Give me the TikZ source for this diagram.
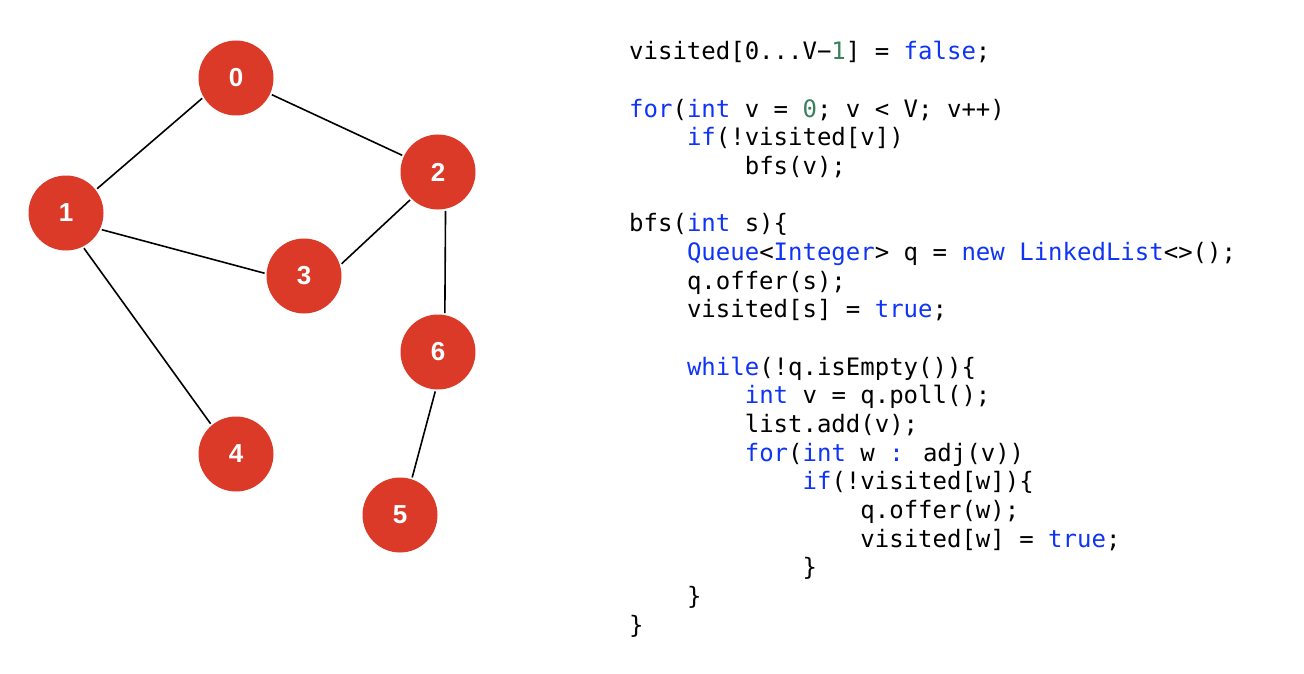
\documentclass[tikz,border=0pt]{standalone}
\usepackage{fontspec}
\setmainfont{Liberation Sans}
\newfontfamily\codefont{DejaVu Sans Mono}
\newfontfamily\labelfont{Liberation Sans}
\definecolor{nodered}{RGB}{219,58,41}
\definecolor{kwblue}{RGB}{16,52,245}
\definecolor{numgreen}{RGB}{58,128,92}
\newcommand{\kw}[1]{\textcolor{kwblue}{#1}}
\newcommand{\nm}[1]{\textcolor{numgreen}{#1}}
\tikzset{
  vertex/.style={circle, fill=nodered, draw=none, minimum size=75pt, inner sep=0pt, outer sep=2pt,
    font=\labelfont\bfseries\fontsize{26}{26}\selectfont, text=white},
  edge/.style={draw=black, line width=1.6pt},
  codeline/.style={anchor=base west, inner sep=0pt, font=\codefont\fontsize{24}{28}\selectfont}
}
\begin{document}
\begin{tikzpicture}[x=1pt,y=-1pt]
\useasboundingbox (0,0) rectangle (1304,674);
% vertices
\node[vertex] (v0) at (236,78) {0};
\node[vertex] (v1) at (66,213) {1};
\node[vertex] (v2) at (438,172) {2};
\node[vertex] (v3) at (304,276) {3};
\node[vertex] (v4) at (236,454) {4};
\node[vertex] (v5) at (400,515) {5};
\node[vertex] (v6) at (438,352) {6};
% edges
\draw[edge] (v0.-149) -- (v1.38);
\draw[edge] (v0.-25) -- (v2.155);
\draw[edge] (v1.-25) -- (v3.176);
\draw[edge] (v1.-63) -- (v4.130);
\draw[edge] (v2.-135) -- (v3.18);
\draw[edge] (v2.-79) -- (v6.80);
\draw[edge] (v6.-94) -- (v5.72);
% code
\def\cx{629}
\def\cw{14.45}
\def\lh{28.65}
\node[codeline] (c0) at (\cx+0*\cw, 60+0*\lh) {visited[0...V−\nm{1}] = \kw{false};};
\node[codeline] (c2) at (\cx+0*\cw, 60+2*\lh) {\kw{for}(\kw{int} v = \nm{0}; v < V; v++)};
\node[codeline] (c3) at (\cx+4*\cw, 60+3*\lh) {\kw{if}(!visited[v])};
\node[codeline] (c4) at (\cx+8*\cw, 60+4*\lh) {bfs(v);};
\node[codeline] (c6) at (\cx+0*\cw, 60+6*\lh) {bfs(\kw{int} s)\{};
\node[codeline] (c7) at (\cx+4*\cw, 60+7*\lh) {\kw{Queue}<\kw{Integer}> q = \kw{new} \kw{LinkedList}<>();};
\node[codeline] (c8) at (\cx+4*\cw, 60+8*\lh) {q.offer(s);};
\node[codeline] (c9) at (\cx+4*\cw, 60+9*\lh) {visited[s] = \kw{true};};
\node[codeline] (c11) at (\cx+4*\cw, 60+11*\lh) {\kw{while}(!q.isEmpty())\{};
\node[codeline] (c12) at (\cx+8*\cw, 60+12*\lh) {\kw{int} v = q.poll();};
\node[codeline] (c13) at (\cx+8*\cw, 60+13*\lh) {list.add(v);};
\node[codeline] (c14) at (\cx+8*\cw, 60+14*\lh) {\kw{for}(\kw{int} w \kw{:} adj(v))};
\node[codeline] (c15) at (\cx+12*\cw, 60+15*\lh) {\kw{if}(!visited[w])\{};
\node[codeline] (c16) at (\cx+16*\cw, 60+16*\lh) {q.offer(w);};
\node[codeline] (c17) at (\cx+16*\cw, 60+17*\lh) {visited[w] = \kw{true};};
\node[codeline] (c18) at (\cx+12*\cw, 60+18*\lh) {\}};
\node[codeline] (c19) at (\cx+4*\cw, 60+19*\lh) {\}};
\node[codeline] (c20) at (\cx+0*\cw, 60+20*\lh) {\}};
\end{tikzpicture}
\end{document}
